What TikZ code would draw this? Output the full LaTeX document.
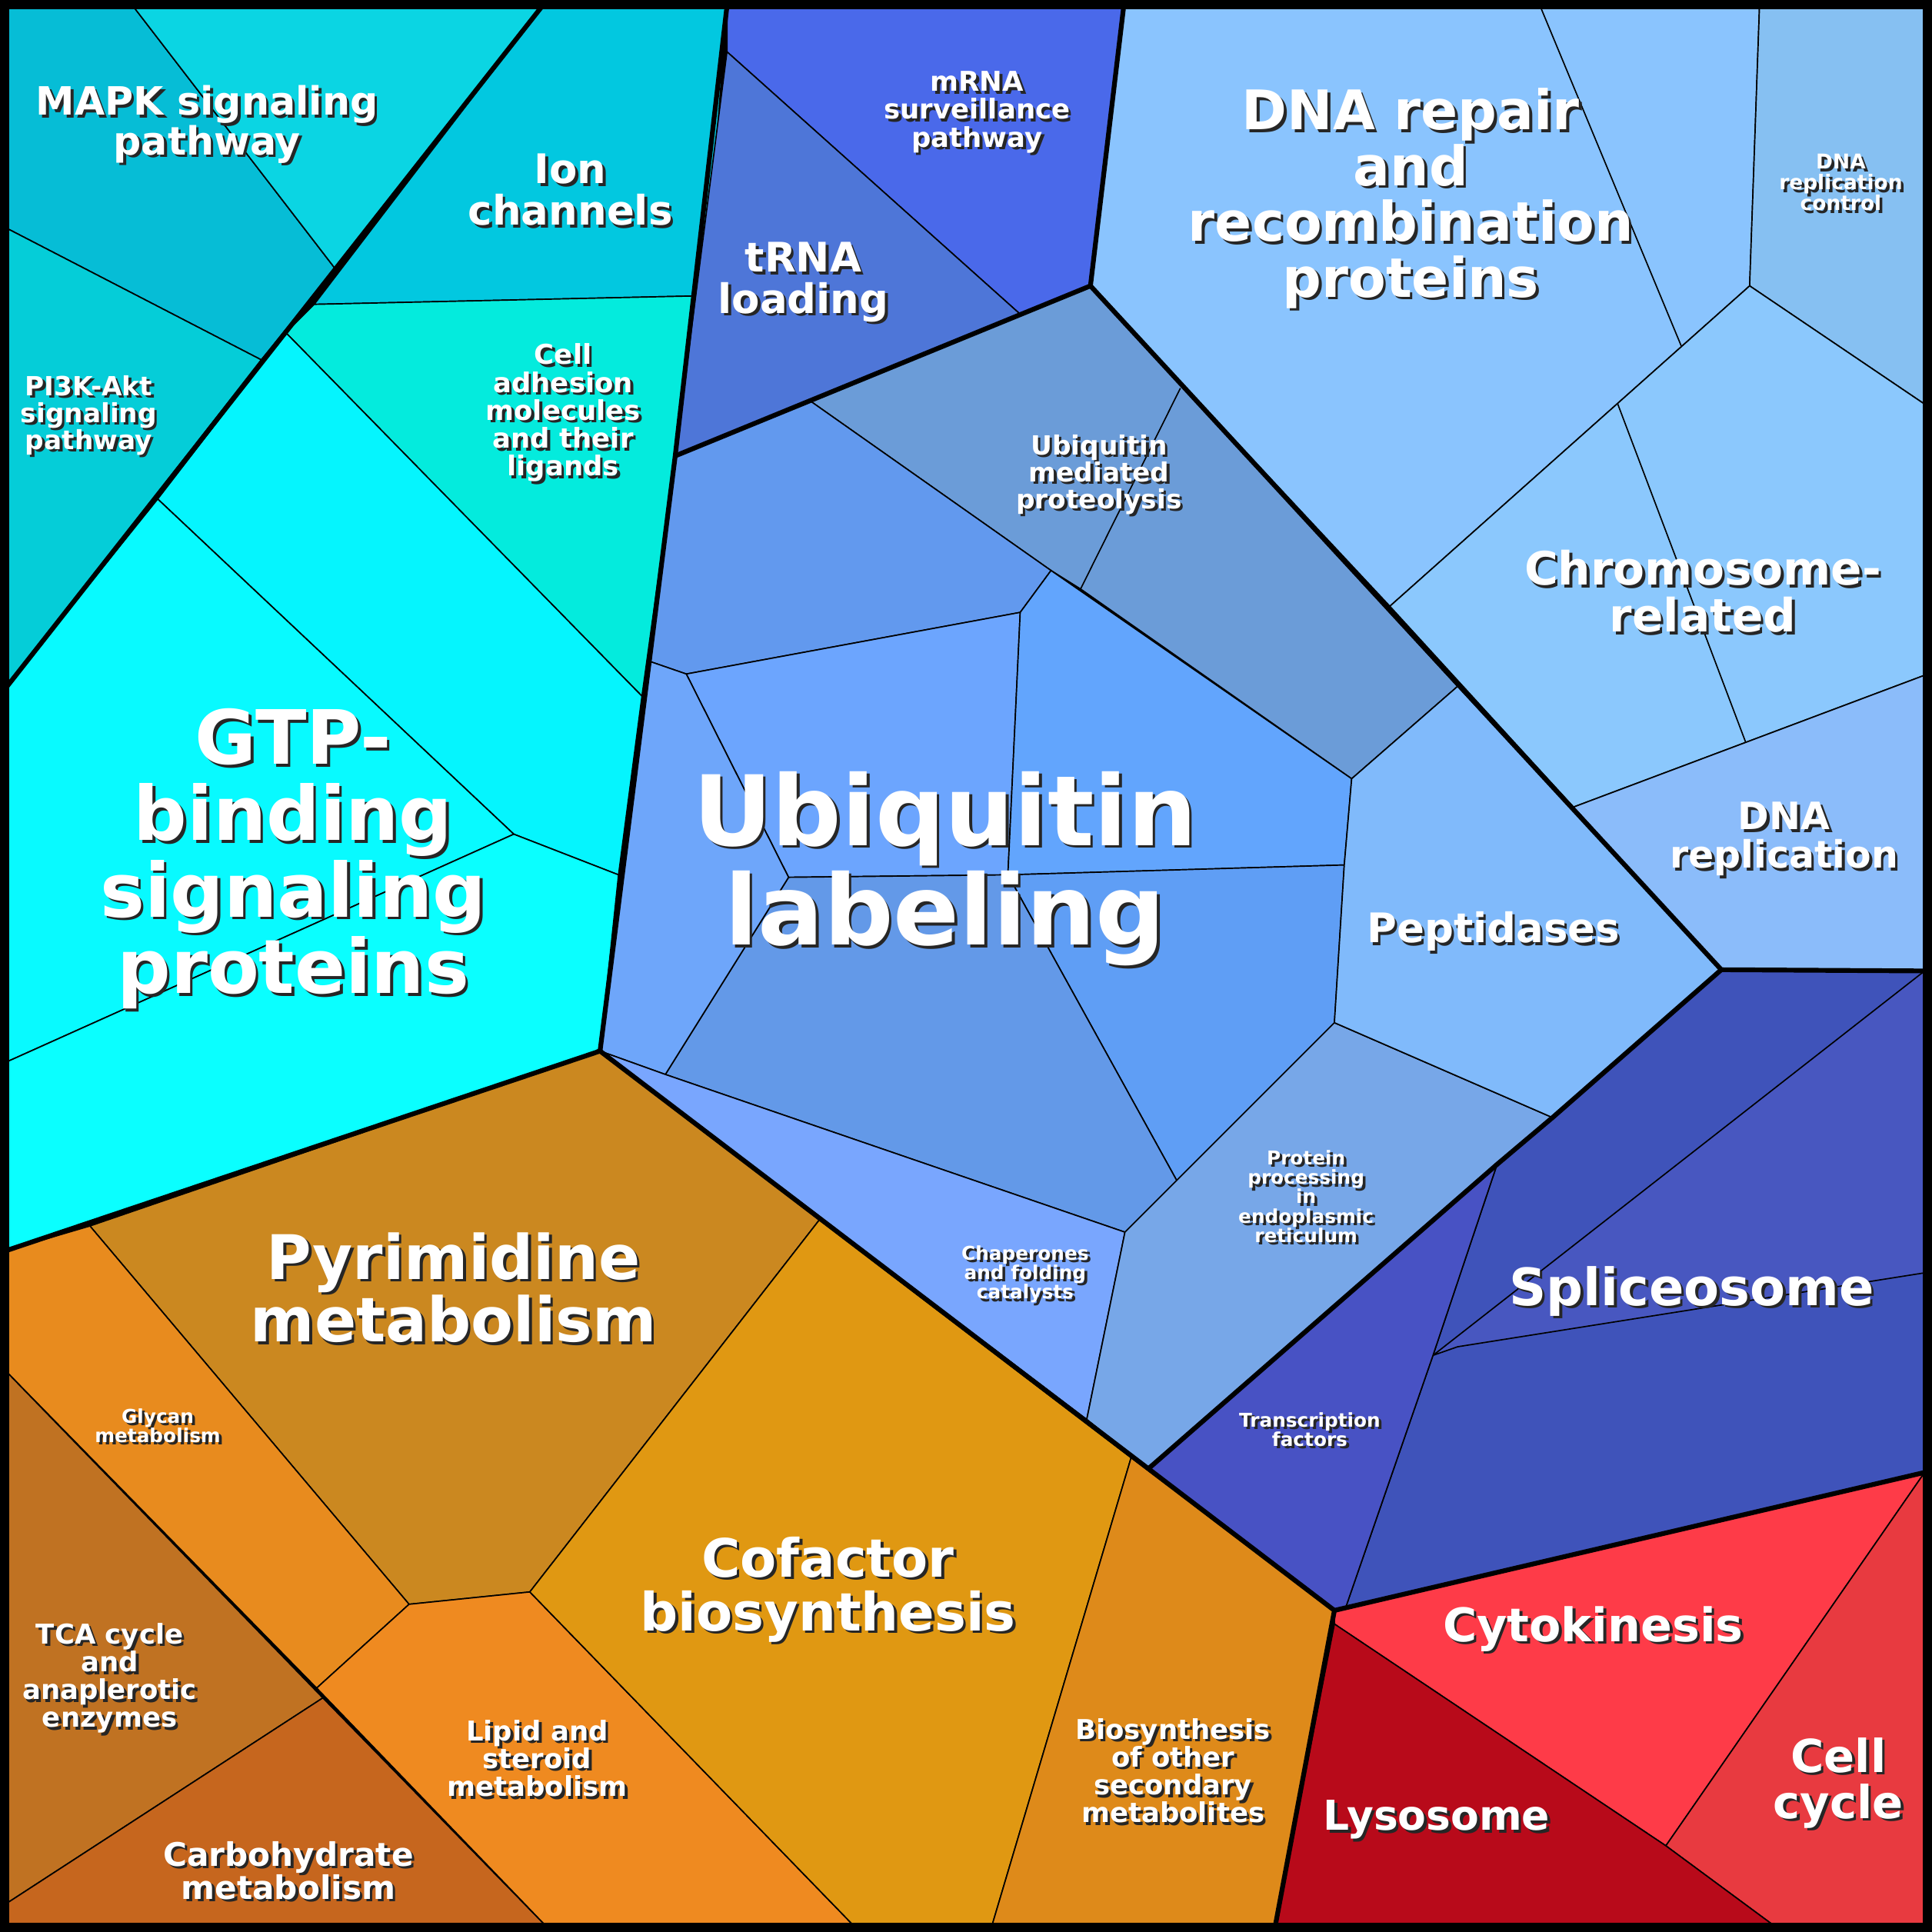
\documentclass[tikz,border=0pt]{standalone}
\usepackage{fontspec}
\setmainfont{DejaVu Sans}
\begin{document}
\begin{tikzpicture}[x=0.1mm,y=-0.1mm,
  cell/.style={draw=black,line width=0.3pt},
  grp/.style={draw=black,line width=1.1pt,line join=round},
  txt/.style={text=white,align=center,inner sep=0pt},
  shd/.style={text=black!85,align=center,inner sep=0pt}]
\newcommand\Lab[4]{%
 \node[shd,font={\bfseries\fontsize{#3}{\dimexpr #3*102/100\relax}\selectfont}] (#1s) at ([shift={(2.2,2.2)}]#2) {#4};
 \node[txt,font={\bfseries\fontsize{#3}{\dimexpr #3*102/100\relax}\selectfont}] (#1) at (#2) {#4};}
\useasboundingbox (0,0) rectangle (1568,1568);
% cyan group
\filldraw[cell,fill=black] (0,0) rectangle (1568,1568);
\filldraw[cell,fill={rgb,255:red,6;green,189;blue,214}] (5,5)--(108,5)--(272,218)--(212,292)--(5,185)--cycle;
\filldraw[cell,fill={rgb,255:red,11;green,213;blue,227}] (108,5)--(440,5)--(272,218)--cycle;
\filldraw[cell,fill={rgb,255:red,5;green,205;blue,216}] (5,185)--(212,292)--(5,558)--cycle;
\filldraw[cell,fill={rgb,255:red,2;green,200;blue,224}] (440,5)--(590,5)--(572,240)--(255,247)--cycle;
\filldraw[cell,fill={rgb,255:red,4;green,235;blue,221}] (255,247)--(572,240)--(548,370)--(521,565)--(232,270)--cycle;
\filldraw[cell,fill={rgb,255:red,5;green,245;blue,254}] (232,270)--(521,565)--(502,710)--(417,677)--(128,405)--cycle;
\filldraw[cell,fill={rgb,255:red,8;green,250;blue,255}] (128,405)--(417,677)--(5,862)--(5,558)--cycle;
\filldraw[cell,fill={rgb,255:red,10;green,255;blue,255}] (417,677)--(502,710)--(487,853)--(5,1015)--(5,862)--cycle;
% orange group
\filldraw[cell,fill={rgb,255:red,203;green,136;blue,32}] (73,995)--(487,853)--(665,990)--(430,1292)--(332,1302)--cycle;
\filldraw[cell,fill={rgb,255:red,232;green,139;blue,30}] (5,1015)--(73,995)--(332,1302)--(257,1370)--(5,1113)--cycle;
\filldraw[cell,fill={rgb,255:red,192;green,114;blue,34}] (5,1113)--(262,1378)--(5,1545)--cycle;
\filldraw[cell,fill={rgb,255:red,198;green,102;blue,30}] (5,1545)--(262,1378)--(443,1563)--(5,1563)--cycle;
\filldraw[cell,fill={rgb,255:red,239;green,138;blue,32}] (257,1370)--(332,1302)--(430,1292)--(693,1563)--(443,1563)--cycle;
\filldraw[cell,fill={rgb,255:red,224;green,152;blue,18}] (430,1292)--(665,990)--(918,1183)--(805,1563)--(693,1563)--cycle;
\filldraw[cell,fill={rgb,255:red,222;green,138;blue,26}] (918,1183)--(1083,1307)--(1035,1563)--(805,1563)--cycle;
% red group
\filldraw[cell,fill={rgb,255:red,254;green,59;blue,72}] (1083,1307)--(1562,1195)--(1352,1498)--(1083,1318)--cycle;
\filldraw[cell,fill={rgb,255:red,232;green,58;blue,64}] (1562,1195)--(1562,1563)--(1440,1563)--(1352,1498)--cycle;
\filldraw[cell,fill={rgb,255:red,184;green,10;blue,26}] (1083,1318)--(1352,1498)--(1440,1563)--(1035,1563)--cycle;
% spliceosome group
\filldraw[cell,fill={rgb,255:red,63;green,83;blue,186}] (1215,945)--(1260,907)--(1397,787)--(1562,788)--(1562,1195)--(1083,1307)--(1092,1305)--(1163,1100)--cycle;
\filldraw[cell,fill={rgb,255:red,72;green,87;blue,192}] (1163,1100)--(1562,788)--(1562,1033)--(1183,1093)--cycle;
\filldraw[cell,fill={rgb,255:red,72;green,82;blue,196}] (932,1192)--(1215,945)--(1163,1100)--(1092,1305)--(1083,1307)--cycle;
% ubiquitin group
\filldraw[cell,fill={rgb,255:red,74;green,105;blue,234}] (590,5)--(912,5)--(885,232)--(828,255)--(590,42)--cycle;
\filldraw[cell,fill={rgb,255:red,78;green,118;blue,216}] (590,42)--(828,255)--(657,325)--(548,370)--cycle;
\filldraw[cell,fill={rgb,255:red,107;green,156;blue,216}] (657,325)--(885,232)--(1183,557)--(1097,632)--(877,478)--(853,463)--cycle;
\draw[cell] (958,315)--(877,478);
\filldraw[cell,fill={rgb,255:red,98;green,153;blue,238}] (548,370)--(657,325)--(853,463)--(828,497)--(557,547)--(528,537)--cycle;
\filldraw[cell,fill={rgb,255:red,108;green,165;blue,254}] (557,547)--(828,497)--(818,710)--(640,712)--cycle;
\filldraw[cell,fill={rgb,255:red,98;green,165;blue,253}] (828,497)--(853,463)--(1097,632)--(1091,702)--(818,710)--cycle;
\filldraw[cell,fill={rgb,255:red,95;green,158;blue,245}] (818,710)--(1091,702)--(1083,830)--(955,958)--cycle;
\filldraw[cell,fill={rgb,255:red,99;green,153;blue,232}] (540,872)--(640,712)--(818,710)--(955,958)--(913,1000)--cycle;
\filldraw[cell,fill={rgb,255:red,110;green,166;blue,250}] (528,537)--(557,547)--(640,712)--(540,872)--(487,853)--cycle;
\filldraw[cell,fill={rgb,255:red,121;green,166;blue,254}] (487,853)--(540,872)--(913,1000)--(882,1152)--cycle;
\filldraw[cell,fill={rgb,255:red,119;green,167;blue,232}] (913,1000)--(955,958)--(1083,830)--(1260,907)--(1215,945)--(932,1192)--(882,1152)--cycle;
\filldraw[cell,fill={rgb,255:red,128;green,186;blue,251}] (1097,632)--(1183,557)--(1397,787)--(1260,907)--(1083,830)--(1091,702)--cycle;
% DNA group
\filldraw[cell,fill={rgb,255:red,138;green,196;blue,254}] (912,5)--(1428,5)--(1420,232)--(1128,492)--(885,232)--cycle;
\draw[cell] (1250,5)--(1365,282);
\filldraw[cell,fill={rgb,255:red,134;green,192;blue,242}] (1428,5)--(1562,5)--(1562,328)--(1420,232)--cycle;
\filldraw[cell,fill={rgb,255:red,139;green,200;blue,253}] (1128,492)--(1420,232)--(1562,328)--(1562,548)--(1277,655)--cycle;
\draw[cell] (1313,328)--(1417,603);
\filldraw[cell,fill={rgb,255:red,139;green,188;blue,250}] (1277,655)--(1562,548)--(1562,788)--(1397,787)--cycle;
% group borders
\draw[grp] (440,5)--(5,558);
\draw[grp] (590,5)--(548,370)--(487,853)--(5,1015);
\draw[grp] (487,853)--(1083,1307)--(1035,1563);
\draw[grp] (1083,1307)--(1562,1195);
\draw[grp] (548,370)--(885,232)--(912,5);
\draw[grp] (885,232)--(1397,787)--(1562,788);
\draw[grp] (1397,787)--(1260,907)--(1215,945)--(932,1192);
\draw[black,line width=2.4pt] (3.5,3.5) rectangle (1564.5,1564.5);
% labels
\Lab{l1}{168,101}{9pt}{MAPK signaling\\pathway}
\Lab{l2}{463,154}{9.4pt}{Ion\\channels}
\Lab{l3}{72,337}{6.1pt}{PI3K-Akt\\signaling\\pathway}
\Lab{l4}{457,335}{6.3pt}{Cell\\adhesion\\molecules\\and their\\ligands}
\Lab{l5}{238,697}{17.3pt}{GTP-\\binding\\signaling\\proteins}
\Lab{l6}{793,91}{6.3pt}{mRNA\\surveillance\\pathway}
\Lab{l7}{652,229}{9.4pt}{tRNA\\loading}
\Lab{l8}{892,385}{6.1pt}{Ubiquitin\\mediated\\proteolysis}
\Lab{l9}{767,705}{22.5pt}{Ubiquitin\\labeling}
\Lab{l10}{1212,756}{9.4pt}{Peptidases}
\Lab{l11}{832,1034}{4.4pt}{Chaperones\\and folding\\catalysts}
\Lab{l12}{1060,971}{4.4pt}{Protein\\processing\\in\\endoplasmic\\reticulum}
\Lab{l13}{1063,1160}{4.4pt}{Transcription\\factors}
\Lab{l14}{1373,1048}{11.9pt}{Spliceosome}
\Lab{l15}{1145,161}{12.6pt}{DNA repair\\and\\recombination\\proteins}
\Lab{l16}{1494,148}{4.7pt}{DNA\\replication\\control}
\Lab{l17}{1382,480}{10.6pt}{Chromosome-\\related}
\Lab{l18}{1448,681}{8.7pt}{DNA\\replication}
\Lab{l19}{368,1045}{14.2pt}{Pyrimidine\\metabolism}
\Lab{l20}{128,1157}{4.4pt}{Glycan\\metabolism}
\Lab{l21}{89,1362}{6.3pt}{TCA cycle\\and\\anaplerotic\\enzymes}
\Lab{l22}{234,1518}{7.5pt}{Carbohydrate\\metabolism}
\Lab{l23}{436,1427}{6.3pt}{Lipid and\\steroid\\metabolism}
\Lab{l24}{672,1290}{12.2pt}{Cofactor\\biosynthesis}
\Lab{l25}{952,1437}{6.3pt}{Biosynthesis\\of other\\secondary\\metabolites}
\Lab{l26}{1293,1322}{10.7pt}{Cytokinesis}
\Lab{l27}{1492,1447}{10.5pt}{Cell\\cycle}
\Lab{l28}{1166,1477}{9.5pt}{Lysosome}
\end{tikzpicture}
\end{document}
